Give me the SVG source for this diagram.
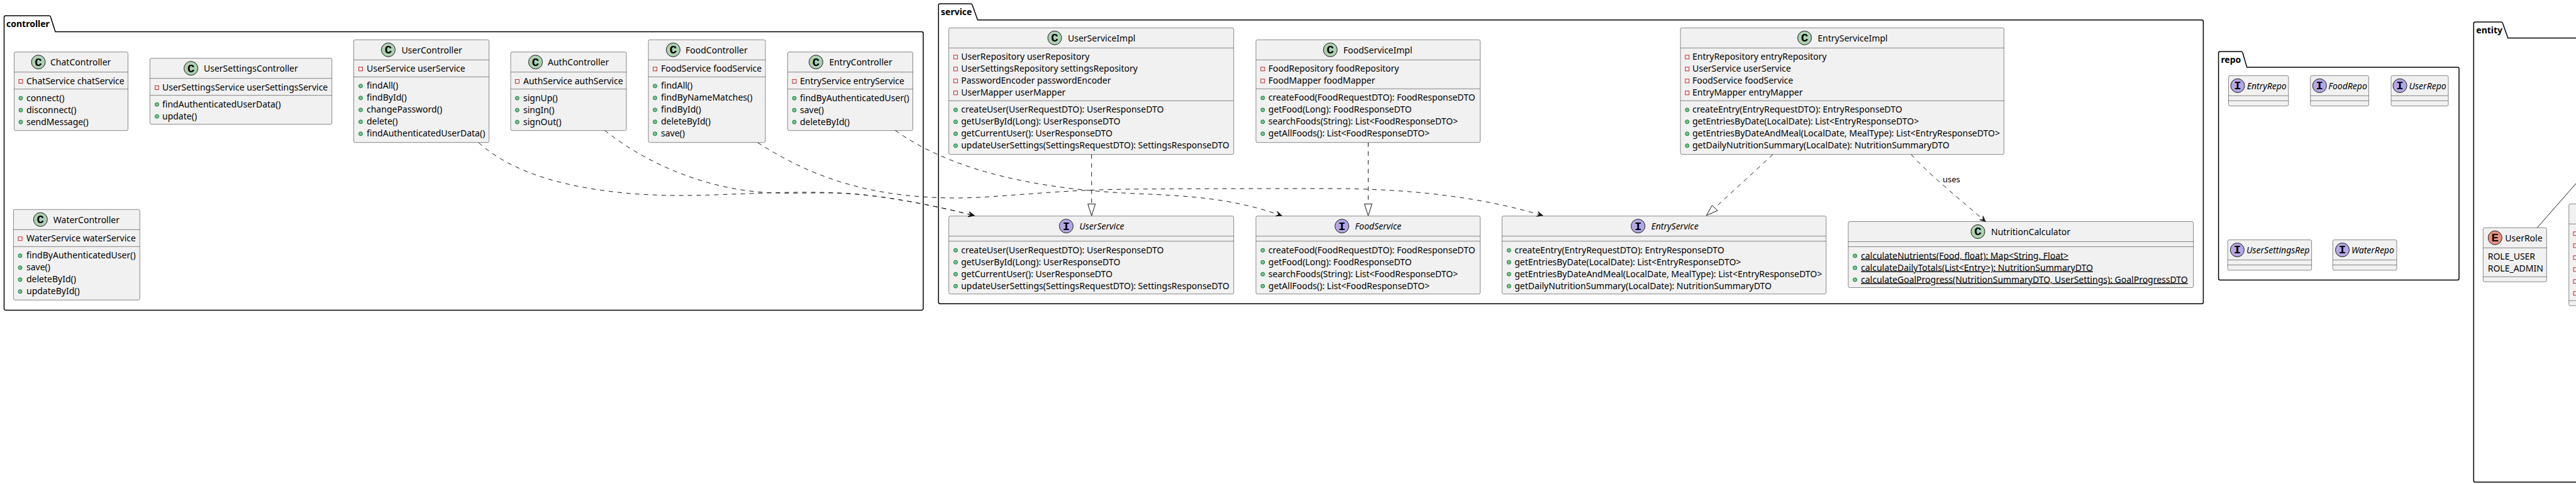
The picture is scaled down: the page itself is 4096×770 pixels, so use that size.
<svg xmlns="http://www.w3.org/2000/svg" width="4096" height="770" viewBox="0 0 4096 770">
<style>
text{font-family:"Noto Sans","DejaVu Sans",sans-serif;font-size:14px;fill:#000}
.pk{fill:none;stroke:#000;stroke-width:1.5}
.pl{font-weight:bold}
.b{fill:#F1F1F1;stroke:#181818;stroke-width:.5}
.s{stroke:#181818;stroke-width:.5}
.c{fill:#ADD1B2;stroke:#181818;stroke-width:1}
.i{fill:#B4A7E5;stroke:#181818;stroke-width:1}
.e{fill:#EB937F;stroke:#181818;stroke-width:1}
.g{font-family:"Liberation Mono","DejaVu Sans Mono",monospace;font-weight:bold;font-size:19px;text-anchor:middle}
.it{font-style:italic}
.u{text-decoration:underline}
.lk{fill:none;stroke:#181818;stroke-width:1;stroke-dasharray:7,7}
.so{fill:none;stroke:#181818;stroke-width:1}
.tri{fill:none;stroke:#181818;stroke-width:1}
.lb{font-size:13px}
</style>
<defs>
<g id="pub"><circle cy=".5" r="3" fill="#84BE84" stroke="#038048" stroke-width="1"/></g>
<g id="pri"><rect x="-3" y="-2.5" width="6" height="6" fill="none" stroke="#C82930" stroke-width="1"/></g>
<marker id="ar" markerUnits="userSpaceOnUse" markerWidth="12" markerHeight="12" refX="10" refY="5" orient="auto" overflow="visible"><path d="M10,5 L1,1 L5,5 L1,9 Z" fill="#181818" stroke="#181818" stroke-width="1"/></marker>
</defs>

<g id="pkg-controller"><path class="pk" d="M6.5,50.5 V27.5 A2.5,2.5 0 0 1 9,25 H78 A2.5,2.5 0 0 1 80.500,27 L88,50.5 H1465.500 A2.5,2.5 0 0 1 1468,53 V491 A2.5,2.5 0 0 1 1465.500,493.500 H9 A2.5,2.5 0 0 1 6.500,491 Z"/><text class="pl" x="10" y="43.300">controller</text></g>
<g id="pkg-service"><path class="pk" d="M1492.300,31.700 V8.500 A2.5,2.5 0 0 1 1494.800,6 H1543.500 A2.5,2.5 0 0 1 1546,8 L1554.600,31.700 H3500.900 A2.5,2.5 0 0 1 3503.400,34.200 V480.800 A2.5,2.5 0 0 1 3500.900,483.300 H1494.800 A2.5,2.5 0 0 1 1492.300,480.800 Z"/><text class="pl" x="1496" y="24.400">service</text></g>
<g id="pkg-repo"><path class="pk" d="M3527.600,107 V84.500 A2.5,2.5 0 0 1 3530.100,82 H3563.500 A2.5,2.5 0 0 1 3566,84 L3572.700,107 H3907.500 A2.5,2.5 0 0 1 3910,109.500 V443 A2.5,2.5 0 0 1 3907.500,445.500 H3530.100 A2.5,2.5 0 0 1 3527.600,443 Z"/><text class="pl" x="3531.400" y="100">repo</text></g>
<g id="pkg-entity"><path class="pk" d="M3933.300,60.600 V37.500 A2.5,2.5 0 0 1 3935.800,35 H3977 A2.5,2.5 0 0 1 3979.500,37 L3987.700,60.600 H4200 V767 H3935.800 A2.5,2.5 0 0 1 3933.300,764.500 Z"/><text class="pl" x="3937.300" y="53">entity</text></g>

<g id="ChatController"><rect class="b" x="22.500" y="82.700" width="181" height="125" rx="2.5"/><line class="s" x1="22.500" x2="203.500" y1="114.700" y2="114.700"/><line class="s" x1="22.500" x2="203.500" y1="141.700" y2="141.700"/><circle class="c" cx="61" cy="98.700" r="11"/><text class="g" x="61" y="104.500">C</text><text x="80" y="104.200">ChatController</text>
<use href="#pri" x="33" y="129"/><text x="42" y="134">ChatService chatService</text>
<use href="#pub" x="33" y="155.700"/><text x="42" y="160.700">connect()</text>
<use href="#pub" x="33" y="174.700"/><text x="42" y="179.700">disconnect()</text>
<use href="#pub" x="33" y="193.700"/><text x="42" y="198.700">sendMessage()</text></g>

<g id="UserSettingsController"><rect class="b" x="238.400" y="92.700" width="289.300" height="105" rx="2.5"/><line class="s" x1="238.400" x2="527.700" y1="124.700" y2="124.700"/><line class="s" x1="238.400" x2="527.700" y1="151.700" y2="151.700"/><circle class="c" cx="303.600" cy="108.700" r="11"/><text class="g" x="303.600" y="114.500">C</text><text x="324" y="114.200">UserSettingsController</text>
<use href="#pri" x="249.500" y="139"/><text x="258" y="144">UserSettingsService userSettingsService</text>
<use href="#pub" x="249.500" y="165.700"/><text x="258" y="170.700">findAuthenticatedUserData()</text>
<use href="#pub" x="249.500" y="184.700"/><text x="258" y="189.700">update()</text></g>

<g id="UserController"><rect class="b" x="562.500" y="63.300" width="215.100" height="163.400" rx="2.5"/><line class="s" x1="562.500" x2="777.600" y1="95.300" y2="95.300"/><line class="s" x1="562.500" x2="777.600" y1="122.300" y2="122.300"/><circle class="c" cx="617.400" cy="79.300" r="11"/><text class="g" x="617.400" y="85.100">C</text><text x="638.400" y="84.800">UserController</text>
<use href="#pri" x="573.500" y="109.300"/><text x="583" y="114.300">UserService userService</text>
<use href="#pub" x="573.500" y="136.300"/><text x="583" y="141.300">findAll()</text>
<use href="#pub" x="573.500" y="155.300"/><text x="583" y="160.300">findById()</text>
<use href="#pub" x="573.500" y="174.300"/><text x="583" y="179.300">changePassword()</text>
<use href="#pub" x="573.500" y="193.300"/><text x="583" y="198.300">delete()</text>
<use href="#pub" x="573.500" y="212.300"/><text x="583" y="217.300">findAuthenticatedUserData()</text></g>

<g id="AuthController"><rect class="b" x="812" y="82.700" width="184" height="125" rx="2.5"/><line class="s" x1="812" x2="996" y1="114.700" y2="114.700"/><line class="s" x1="812" x2="996" y1="141.700" y2="141.700"/><circle class="c" cx="851.500" cy="98.700" r="11"/><text class="g" x="851.500" y="104.500">C</text><text x="871" y="104.200">AuthController</text>
<use href="#pri" x="822.400" y="129"/><text x="832" y="134">AuthService authService</text>
<use href="#pub" x="822.400" y="155.700"/><text x="832" y="160.700">signUp()</text>
<use href="#pub" x="822.400" y="174.700"/><text x="832" y="179.700">singIn()</text>
<use href="#pub" x="822.400" y="193.700"/><text x="832" y="198.700">signOut()</text></g>

<g id="FoodController"><rect class="b" x="1031" y="63.300" width="186" height="163.400" rx="2.5"/><line class="s" x1="1031" x2="1217" y1="95.300" y2="95.300"/><line class="s" x1="1031" x2="1217" y1="122.300" y2="122.300"/><circle class="c" cx="1070.400" cy="79.300" r="11"/><text class="g" x="1070.400" y="85.100">C</text><text x="1090" y="84.800">FoodController</text>
<use href="#pri" x="1041.500" y="109.300"/><text x="1051" y="114.300">FoodService foodService</text>
<use href="#pub" x="1041.500" y="136.300"/><text x="1051" y="141.300">findAll()</text>
<use href="#pub" x="1041.500" y="155.300"/><text x="1051" y="160.300">findByNameMatches()</text>
<use href="#pub" x="1041.500" y="174.300"/><text x="1051" y="179.300">findById()</text>
<use href="#pub" x="1041.500" y="193.300"/><text x="1051" y="198.300">deleteById()</text>
<use href="#pub" x="1041.500" y="212.300"/><text x="1051" y="217.300">save()</text></g>

<g id="EntryController"><rect class="b" x="1252.500" y="82.700" width="199" height="125" rx="2.5"/><line class="s" x1="1252.500" x2="1451.500" y1="114.700" y2="114.700"/><line class="s" x1="1252.500" x2="1451.500" y1="141.700" y2="141.700"/><circle class="c" cx="1297.400" cy="98.700" r="11"/><text class="g" x="1297.400" y="104.500">C</text><text x="1318.400" y="104.200">EntryController</text>
<use href="#pri" x="1263" y="129"/><text x="1272" y="134">EntryService entryService</text>
<use href="#pub" x="1263" y="155.700"/><text x="1272" y="160.700">findByAuthenticatedUser()</text>
<use href="#pub" x="1263" y="174.700"/><text x="1272" y="179.700">save()</text>
<use href="#pub" x="1263" y="193.700"/><text x="1272" y="198.700">deleteById()</text></g>

<g id="WaterController"><rect class="b" x="21.400" y="333.300" width="200.900" height="144" rx="2.5"/><line class="s" x1="21.400" x2="222.300" y1="365.300" y2="365.300"/><line class="s" x1="21.400" x2="222.300" y1="392.300" y2="392.300"/><circle class="c" cx="64.300" cy="349.300" r="11"/><text class="g" x="64.300" y="355.100">C</text><text x="84.800" y="354.800">WaterController</text>
<use href="#pri" x="32" y="379.300"/><text x="42" y="384.300">WaterService waterService</text>
<use href="#pub" x="32" y="406.300"/><text x="42" y="411.300">findByAuthenticatedUser()</text>
<use href="#pub" x="32" y="425.300"/><text x="42" y="430.300">save()</text>
<use href="#pub" x="32" y="444.300"/><text x="42" y="449.300">deleteById()</text>
<use href="#pub" x="32" y="463.300"/><text x="42" y="468.300">updateById()</text></g>

<g id="UserServiceImpl"><rect class="b" x="1508.700" y="44.300" width="453" height="201.400" rx="2.5"/><line class="s" x1="1508.700" x2="1961.700" y1="76.300" y2="76.300"/><line class="s" x1="1508.700" x2="1961.700" y1="160.300" y2="160.300"/><circle class="c" cx="1677" cy="60.300" r="11"/><text class="g" x="1677" y="66.100">C</text><text x="1698" y="65.800">UserServiceImpl</text>
<use href="#pri" x="1519.500" y="90.300"/><text x="1528.200" y="95.300">UserRepository userRepository</text>
<use href="#pri" x="1519.500" y="109.300"/><text x="1528.200" y="114.300">UserSettingsRepository settingsRepository</text>
<use href="#pri" x="1519.500" y="128.300"/><text x="1528.200" y="133.300">PasswordEncoder passwordEncoder</text>
<use href="#pri" x="1519.500" y="147.300"/><text x="1528.200" y="152.300">UserMapper userMapper</text>
<use href="#pub" x="1519.500" y="174.300"/><text x="1528.200" y="179.300">createUser(UserRequestDTO): UserResponseDTO</text>
<use href="#pub" x="1519.500" y="193.300"/><text x="1528.200" y="198.300">getUserById(Long): UserResponseDTO</text>
<use href="#pub" x="1519.500" y="212.300"/><text x="1528.200" y="217.300">getCurrentUser(): UserResponseDTO</text>
<use href="#pub" x="1519.500" y="231.300"/><text x="1528.200" y="236.300">updateUserSettings(SettingsRequestDTO): SettingsResponseDTO</text></g>

<g id="FoodServiceImpl"><rect class="b" x="1997" y="63.300" width="356.600" height="163.400" rx="2.5"/><line class="s" x1="1997" x2="2353.600" y1="95.300" y2="95.300"/><line class="s" x1="1997" x2="2353.600" y1="141.300" y2="141.300"/><circle class="c" cx="2115.300" cy="79.300" r="11"/><text class="g" x="2115.300" y="85.100">C</text><text x="2136" y="84.800">FoodServiceImpl</text>
<use href="#pri" x="2007.800" y="109.300"/><text x="2016.800" y="114.300">FoodRepository foodRepository</text>
<use href="#pri" x="2007.800" y="128.300"/><text x="2016.800" y="133.300">FoodMapper foodMapper</text>
<use href="#pub" x="2007.800" y="155.300"/><text x="2016.800" y="160.300">createFood(FoodRequestDTO): FoodResponseDTO</text>
<use href="#pub" x="2007.800" y="174.300"/><text x="2016.800" y="179.300">getFood(Long): FoodResponseDTO</text>
<use href="#pub" x="2007.800" y="193.300"/><text x="2016.800" y="198.300">searchFoods(String): List&lt;FoodResponseDTO&gt;</text>
<use href="#pub" x="2007.800" y="212.300"/><text x="2016.800" y="217.300">getAllFoods(): List&lt;FoodResponseDTO&gt;</text></g>

<g id="EntryServiceImpl"><rect class="b" x="2672" y="44.300" width="514.400" height="201.400" rx="2.5"/><line class="s" x1="2672" x2="3186.400" y1="76.300" y2="76.300"/><line class="s" x1="2672" x2="3186.400" y1="160.300" y2="160.300"/><circle class="c" cx="2869.400" cy="60.300" r="11"/><text class="g" x="2869.400" y="66.100">C</text><text x="2890.300" y="65.800">EntryServiceImpl</text>
<use href="#pri" x="2682.700" y="90.300"/><text x="2691" y="95.300">EntryRepository entryRepository</text>
<use href="#pri" x="2682.700" y="109.300"/><text x="2691" y="114.300">UserService userService</text>
<use href="#pri" x="2682.700" y="128.300"/><text x="2691" y="133.300">FoodService foodService</text>
<use href="#pri" x="2682.700" y="147.300"/><text x="2691" y="152.300">EntryMapper entryMapper</text>
<use href="#pub" x="2682.700" y="174.300"/><text x="2691" y="179.300">createEntry(EntryRequestDTO): EntryResponseDTO</text>
<use href="#pub" x="2682.700" y="193.300"/><text x="2691" y="198.300">getEntriesByDate(LocalDate): List&lt;EntryResponseDTO&gt;</text>
<use href="#pub" x="2682.700" y="212.300"/><text x="2691" y="217.300">getEntriesByDateAndMeal(LocalDate, MealType): List&lt;EntryResponseDTO&gt;</text>
<use href="#pub" x="2682.700" y="231.300"/><text x="2691" y="236.300">getDailyNutritionSummary(LocalDate): NutritionSummaryDTO</text></g>

<g id="UserService"><rect class="b" x="1508.700" y="343.700" width="453" height="124" rx="2.5"/><line class="s" x1="1508.700" x2="1961.700" y1="375.700" y2="375.700"/><line class="s" x1="1508.700" x2="1961.700" y1="383.700" y2="383.700"/><circle class="i" cx="1695.400" cy="359.700" r="11"/><text class="g" x="1695.400" y="365.500">I</text><text class="it" x="1716.300" y="365.200">UserService</text>
<use href="#pub" x="1519.500" y="397.700"/><text x="1528.200" y="402.700">createUser(UserRequestDTO): UserResponseDTO</text>
<use href="#pub" x="1519.500" y="416.700"/><text x="1528.200" y="421.700">getUserById(Long): UserResponseDTO</text>
<use href="#pub" x="1519.500" y="435.700"/><text x="1528.200" y="440.700">getCurrentUser(): UserResponseDTO</text>
<use href="#pub" x="1519.500" y="454.700"/><text x="1528.200" y="459.700">updateUserSettings(SettingsRequestDTO): SettingsResponseDTO</text></g>

<g id="FoodService"><rect class="b" x="1997" y="343.700" width="356.600" height="124" rx="2.5"/><line class="s" x1="1997" x2="2353.600" y1="375.700" y2="375.700"/><line class="s" x1="1997" x2="2353.600" y1="383.700" y2="383.700"/><circle class="i" cx="2133.700" cy="359.700" r="11"/><text class="g" x="2133.700" y="365.500">I</text><text class="it" x="2154.600" y="365.200">FoodService</text>
<use href="#pub" x="2007.800" y="397.700"/><text x="2016.800" y="402.700">createFood(FoodRequestDTO): FoodResponseDTO</text>
<use href="#pub" x="2007.800" y="416.700"/><text x="2016.800" y="421.700">getFood(Long): FoodResponseDTO</text>
<use href="#pub" x="2007.800" y="435.700"/><text x="2016.800" y="440.700">searchFoods(String): List&lt;FoodResponseDTO&gt;</text>
<use href="#pub" x="2007.800" y="454.700"/><text x="2016.800" y="459.700">getAllFoods(): List&lt;FoodResponseDTO&gt;</text></g>

<g id="EntryService"><rect class="b" x="2388.300" y="343.700" width="515.300" height="124" rx="2.5"/><line class="s" x1="2388.300" x2="2903.600" y1="375.700" y2="375.700"/><line class="s" x1="2388.300" x2="2903.600" y1="383.700" y2="383.700"/><circle class="i" cx="2604.600" cy="359.700" r="11"/><text class="g" x="2604.600" y="365.500">I</text><text class="it" x="2625.500" y="365.200">EntryService</text>
<use href="#pub" x="2399.300" y="397.700"/><text x="2408.200" y="402.700">createEntry(EntryRequestDTO): EntryResponseDTO</text>
<use href="#pub" x="2399.300" y="416.700"/><text x="2408.200" y="421.700">getEntriesByDate(LocalDate): List&lt;EntryResponseDTO&gt;</text>
<use href="#pub" x="2399.300" y="435.700"/><text x="2408.200" y="440.700">getEntriesByDateAndMeal(LocalDate, MealType): List&lt;EntryResponseDTO&gt;</text>
<use href="#pub" x="2399.300" y="454.700"/><text x="2408.200" y="459.700">getDailyNutritionSummary(LocalDate): NutritionSummaryDTO</text></g>

<g id="NutritionCalculator"><rect class="b" x="2938.800" y="352.500" width="548.700" height="105" rx="2.5"/><line class="s" x1="2938.800" x2="3487.500" y1="384.500" y2="384.500"/><line class="s" x1="2938.800" x2="3487.500" y1="392.500" y2="392.500"/><circle class="c" cx="3145" cy="368.500" r="11"/><text class="g" x="3145" y="374.300">C</text><text x="3166" y="374">NutritionCalculator</text>
<use href="#pub" x="2949.500" y="406.500"/><text class="u" x="2959" y="411.500">calculateNutrients(Food, float): Map&lt;String, Float&gt;</text>
<use href="#pub" x="2949.500" y="425.500"/><text class="u" x="2959" y="430.500">calculateDailyTotals(List&lt;Entry&gt;): NutritionSummaryDTO</text>
<use href="#pub" x="2949.500" y="444.500"/><text class="u" x="2959" y="449.500">calculateGoalProgress(NutritionSummaryDTO, UserSettings): GoalProgressDTO</text></g>

<g id="EntryRepo"><rect class="b" x="3543.500" y="120.300" width="95.300" height="48.300" rx="2.5"/><line class="s" x1="3543.500" x2="3638.800" y1="152.300" y2="152.300"/><line class="s" x1="3543.500" x2="3638.800" y1="160.300" y2="160.300"/><circle class="i" cx="3558" cy="136.300" r="11"/><text class="g" x="3558" y="142.100">I</text><text class="it" x="3572.700" y="141.800">EntryRepo</text></g>
<g id="FoodRepo"><rect class="b" x="3673.700" y="120.300" width="92.800" height="48.300" rx="2.5"/><line class="s" x1="3673.700" x2="3766.500" y1="152.300" y2="152.300"/><line class="s" x1="3673.700" x2="3766.500" y1="160.300" y2="160.300"/><circle class="i" cx="3688.300" cy="136.300" r="11"/><text class="g" x="3688.300" y="142.100">I</text><text class="it" x="3702.300" y="141.800">FoodRepo</text></g>
<g id="UserRepo"><rect class="b" x="3802" y="120.300" width="91" height="48.300" rx="2.5"/><line class="s" x1="3802" x2="3893" y1="152.300" y2="152.300"/><line class="s" x1="3802" x2="3893" y1="160.300" y2="160.300"/><circle class="i" cx="3816" cy="136.300" r="11"/><text class="g" x="3816" y="142.100">I</text><text class="it" x="3830.600" y="141.800">UserRepo</text></g>
<g id="UserSettingsRep"><rect class="b" x="3542.200" y="381.600" width="133.400" height="48.300" rx="2.5"/><line class="s" x1="3542.200" x2="3675.600" y1="413.600" y2="413.600"/><line class="s" x1="3542.200" x2="3675.600" y1="421.600" y2="421.600"/><circle class="i" cx="3557.400" cy="397.600" r="11"/><text class="g" x="3557.400" y="403.400">I</text><text class="it" x="3572" y="403.100">UserSettingsRep</text></g>
<g id="WaterRepo"><rect class="b" x="3709.300" y="381.600" width="101.700" height="48.300" rx="2.5"/><line class="s" x1="3709.300" x2="3811" y1="413.600" y2="413.600"/><line class="s" x1="3709.300" x2="3811" y1="421.600" y2="421.600"/><circle class="i" cx="3724.500" cy="397.600" r="11"/><text class="g" x="3724.500" y="403.400">I</text><text class="it" x="3739" y="403.100">WaterRepo</text></g>

<g id="UserRole"><rect class="b" x="3948.300" y="362.300" width="101" height="86" rx="2.5"/><line class="s" x1="3948.300" x2="4049.300" y1="394.300" y2="394.300"/><line class="s" x1="3948.300" x2="4049.300" y1="440.300" y2="440.300"/><circle class="e" cx="3967.300" cy="378.300" r="11"/><text class="g" x="3967.300" y="384.100">E</text><text x="3983.300" y="383.800">UserRole</text>
<text x="3955.700" y="413">ROLE_USER</text><text x="3955.700" y="432">ROLE_ADMIN</text></g>
<g id="EntityCut"><rect class="b" x="4084.700" y="324.300" width="120" height="162" rx="2.5"/><line class="s" x1="4084.700" x2="4204.700" y1="356.300" y2="356.300"/><line class="s" x1="4084.700" x2="4204.700" y1="478.300" y2="478.300"/>
<use href="#pri" x="4095" y="371.300"/><use href="#pri" x="4095" y="390.300"/><use href="#pri" x="4095" y="409.300"/><use href="#pri" x="4095" y="428.300"/><use href="#pri" x="4095" y="447.300"/><use href="#pri" x="4095" y="466.300"/></g>

<g id="connectors">
<path class="lk" marker-end="url(#ar)" d="M761.200,227 C830,290 960,311 1082,311 C1165,311 1270,301 1363,309 C1420,314 1490,328 1549,343"/>
<path class="lk" marker-end="url(#ar)" d="M961.700,207.500 C1030,262 1130,305 1236,307 C1280,308 1320,305 1363,309 C1420,314 1490,328 1549,343"/>
<path class="lk" marker-end="url(#ar)" d="M1205,227 C1280,275 1370,314 1517,315 C1590,315 1660,303 1790,301 C1900,300 2000,300 2112,300 C2250,300 2360,315 2453,343"/>
<path class="lk" marker-end="url(#ar)" d="M1423.500,207.500 C1500,262 1620,300 1806,308 C1900,312 1960,316 2038,343"/>
<path class="lk" d="M1735.700,245.700 V324.500"/><polygon class="tri" points="1729.700,324.500 1741.700,324.500 1735.700,343.200"/>
<path class="lk" d="M2175.500,226.700 V324.500"/><polygon class="tri" points="2169.500,324.500 2181.500,324.500 2175.500,343.200"/>
<path class="lk" d="M2819,245.700 L2727,330.500"/><polygon class="tri" points="2722.400,326.700 2731,335 2713.300,342.700"/>
<path class="lk" marker-end="url(#ar)" d="M3038.800,245.700 C3070,280 3120,320 3157,352.500"/>
<path class="so" d="M4034.300,362.300 L4096,292"/>
<text class="lb" x="3089" y="290">uses</text>
</g>
</svg>
